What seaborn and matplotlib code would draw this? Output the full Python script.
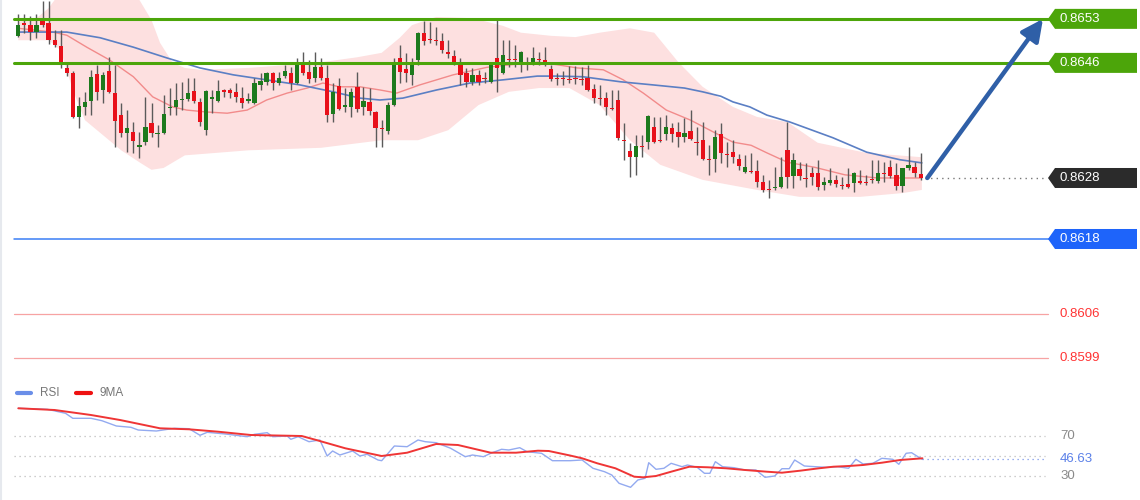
import matplotlib
matplotlib.use("Agg")
import matplotlib.pyplot as plt
import numpy as np
import seaborn as sns
from matplotlib.lines import Line2D
from matplotlib.patches import Polygon

sns.set_theme(style="white")
plt.rcParams["font.family"] = ["Liberation Sans", "DejaVu Sans"]

# ---- candles (price) ----
opens = [0.86503, 0.86523, 0.86520, 0.86509, 0.86527, 0.86523, 0.86496, 0.86487, 0.86452, 0.86444,
         0.86374, 0.86390, 0.86399, 0.86442, 0.86417, 0.86447, 0.86412, 0.86377, 0.86349, 0.86350,
         0.86326, 0.86334, 0.86364, 0.86347, 0.86349, 0.86388, 0.86390, 0.86401, 0.86403, 0.86415,
         0.86398, 0.86353, 0.86403, 0.86399, 0.86417, 0.86417, 0.86414, 0.86404, 0.86399, 0.86396,
         0.86425, 0.86430, 0.86444, 0.86428, 0.86439, 0.86444, 0.86428, 0.86457, 0.86446, 0.86436,
         0.86453, 0.86436, 0.86379, 0.86423, 0.86390, 0.86390, 0.86422, 0.86390, 0.86398, 0.86382,
         0.86356, 0.86352, 0.86393, 0.86468, 0.86450, 0.86441, 0.86465, 0.86508, 0.86498, 0.86496,
         0.86495, 0.86477, 0.86471, 0.86457, 0.86444, 0.86430, 0.86441, 0.86436, 0.86430, 0.86468,
         0.86444, 0.86466, 0.86466, 0.86457, 0.86457, 0.86461, 0.86466, 0.86465, 0.86450, 0.86436,
         0.86436, 0.86434, 0.86436, 0.86434, 0.86436, 0.86418, 0.86404, 0.86404, 0.86388, 0.86401,
         0.86337, 0.86320, 0.86310, 0.86328, 0.86334, 0.86358, 0.86337, 0.86347, 0.86356, 0.86350,
         0.86342, 0.86352, 0.86334, 0.86337, 0.86307, 0.86307, 0.86347, 0.86315, 0.86318, 0.86307,
         0.86287, 0.86288, 0.86288, 0.86271, 0.86260, 0.86261, 0.86263, 0.86321, 0.86280, 0.86291,
         0.86277, 0.86285, 0.86285, 0.86266, 0.86269, 0.86274, 0.86266, 0.86267, 0.86269, 0.86272,
         0.86271, 0.86275, 0.86272, 0.86285, 0.86294, 0.86282, 0.86264, 0.86293, 0.86294, 0.86283]
highs = [0.86538, 0.86538, 0.86535, 0.86538, 0.86558, 0.86558, 0.86512, 0.86512, 0.86460, 0.86447,
         0.86406, 0.86414, 0.86449, 0.86457, 0.86446, 0.86469, 0.86457, 0.86396, 0.86385, 0.86366,
         0.86350, 0.86406, 0.86396, 0.86361, 0.86409, 0.86420, 0.86428, 0.86430, 0.86436, 0.86436,
         0.86404, 0.86417, 0.86417, 0.86433, 0.86418, 0.86420, 0.86428, 0.86422, 0.86412, 0.86436,
         0.86444, 0.86446, 0.86446, 0.86446, 0.86457, 0.86453, 0.86468, 0.86477, 0.86465, 0.86477,
         0.86468, 0.86457, 0.86428, 0.86436, 0.86420, 0.86420, 0.86446, 0.86422, 0.86420, 0.86383,
         0.86369, 0.86398, 0.86468, 0.86488, 0.86476, 0.86468, 0.86509, 0.86527, 0.86525, 0.86517,
         0.86508, 0.86496, 0.86480, 0.86468, 0.86452, 0.86452, 0.86449, 0.86446, 0.86461, 0.86528,
         0.86496, 0.86496, 0.86488, 0.86479, 0.86469, 0.86485, 0.86477, 0.86485, 0.86457, 0.86444,
         0.86447, 0.86455, 0.86455, 0.86453, 0.86457, 0.86426, 0.86425, 0.86414, 0.86417, 0.86417,
         0.86364, 0.86333, 0.86345, 0.86345, 0.86377, 0.86374, 0.86374, 0.86377, 0.86364, 0.86366,
         0.86372, 0.86385, 0.86358, 0.86366, 0.86329, 0.86353, 0.86364, 0.86334, 0.86337, 0.86315,
         0.86314, 0.86317, 0.86306, 0.86282, 0.86274, 0.86294, 0.86310, 0.86366, 0.86317, 0.86302,
         0.86301, 0.86294, 0.86306, 0.86279, 0.86293, 0.86282, 0.86279, 0.86293, 0.86287, 0.86290,
         0.86282, 0.86306, 0.86306, 0.86302, 0.86306, 0.86301, 0.86293, 0.86326, 0.86302, 0.86317]
lows = [0.86501, 0.86508, 0.86496, 0.86500, 0.86517, 0.86490, 0.86485, 0.86452, 0.86439, 0.86372,
        0.86356, 0.86377, 0.86377, 0.86401, 0.86396, 0.86412, 0.86326, 0.86342, 0.86318, 0.86317,
        0.86309, 0.86329, 0.86342, 0.86326, 0.86347, 0.86377, 0.86377, 0.86385, 0.86399, 0.86396,
        0.86360, 0.86345, 0.86380, 0.86398, 0.86406, 0.86404, 0.86398, 0.86388, 0.86396, 0.86395,
        0.86417, 0.86425, 0.86417, 0.86425, 0.86436, 0.86417, 0.86426, 0.86441, 0.86428, 0.86430,
        0.86433, 0.86366, 0.86366, 0.86385, 0.86382, 0.86374, 0.86382, 0.86377, 0.86377, 0.86326,
        0.86326, 0.86347, 0.86391, 0.86428, 0.86430, 0.86425, 0.86457, 0.86488, 0.86492, 0.86488,
        0.86476, 0.86468, 0.86457, 0.86425, 0.86422, 0.86425, 0.86425, 0.86428, 0.86428, 0.86414,
        0.86442, 0.86453, 0.86453, 0.86446, 0.86449, 0.86457, 0.86457, 0.86455, 0.86431, 0.86425,
        0.86425, 0.86428, 0.86426, 0.86425, 0.86415, 0.86396, 0.86393, 0.86377, 0.86385, 0.86337,
        0.86306, 0.86279, 0.86282, 0.86310, 0.86323, 0.86333, 0.86334, 0.86337, 0.86334, 0.86326,
        0.86334, 0.86337, 0.86314, 0.86306, 0.86282, 0.86287, 0.86301, 0.86294, 0.86301, 0.86290,
        0.86285, 0.86285, 0.86263, 0.86255, 0.86245, 0.86258, 0.86261, 0.86261, 0.86261, 0.86274,
        0.86263, 0.86266, 0.86258, 0.86258, 0.86266, 0.86263, 0.86260, 0.86261, 0.86255, 0.86267,
        0.86266, 0.86269, 0.86269, 0.86271, 0.86277, 0.86258, 0.86255, 0.86290, 0.86279, 0.86274]
closes = [0.86520, 0.86520, 0.86509, 0.86520, 0.86520, 0.86496, 0.86488, 0.86460, 0.86444, 0.86374,
          0.86391, 0.86398, 0.86438, 0.86414, 0.86441, 0.86414, 0.86368, 0.86349, 0.86356, 0.86336,
          0.86329, 0.86358, 0.86349, 0.86349, 0.86379, 0.86390, 0.86401, 0.86403, 0.86412, 0.86399,
          0.86366, 0.86415, 0.86406, 0.86415, 0.86414, 0.86412, 0.86406, 0.86396, 0.86403, 0.86428,
          0.86431, 0.86444, 0.86428, 0.86436, 0.86447, 0.86428, 0.86457, 0.86444, 0.86434, 0.86453,
          0.86436, 0.86377, 0.86414, 0.86387, 0.86393, 0.86414, 0.86387, 0.86399, 0.86383, 0.86356,
          0.86355, 0.86393, 0.86458, 0.86446, 0.86444, 0.86460, 0.86508, 0.86495, 0.86496, 0.86495,
          0.86480, 0.86474, 0.86460, 0.86441, 0.86430, 0.86441, 0.86430, 0.86434, 0.86460, 0.86452,
          0.86473, 0.86465, 0.86465, 0.86477, 0.86461, 0.86468, 0.86465, 0.86457, 0.86434, 0.86434,
          0.86434, 0.86433, 0.86434, 0.86433, 0.86417, 0.86404, 0.86403, 0.86390, 0.86387, 0.86341,
          0.86336, 0.86310, 0.86328, 0.86326, 0.86376, 0.86334, 0.86336, 0.86358, 0.86347, 0.86342,
          0.86349, 0.86339, 0.86333, 0.86307, 0.86306, 0.86342, 0.86317, 0.86314, 0.86310, 0.86296,
          0.86294, 0.86287, 0.86271, 0.86258, 0.86258, 0.86263, 0.86279, 0.86279, 0.86306, 0.86280,
          0.86275, 0.86279, 0.86263, 0.86271, 0.86274, 0.86267, 0.86264, 0.86263, 0.86285, 0.86269,
          0.86269, 0.86274, 0.86285, 0.86283, 0.86280, 0.86264, 0.86293, 0.86298, 0.86285, 0.86277]

# ---- bollinger band edges and moving averages (bar index, price) ----
upper_x = [0, 3, 5, 6, 8, 13, 18, 20, 22, 23.4, 25.5, 27.5, 30, 38, 45, 50, 56, 60, 63, 65, 69, 75,
           80, 83, 88, 92, 96, 101, 105, 109, 113, 118, 122, 127, 132, 140, 149.2]
upper_px = [0.86525, 0.86531, 0.86547, 0.86560, 0.86584, 0.86608, 0.86592, 0.86560, 0.86528, 0.86492,
            0.86460, 0.86452, 0.86449, 0.86452, 0.86457, 0.86461, 0.86469, 0.86476, 0.86500, 0.86520,
            0.86533, 0.86531, 0.86519, 0.86508, 0.86503, 0.86501, 0.86508, 0.86515, 0.86508, 0.86461,
            0.86422, 0.86390, 0.86374, 0.86366, 0.86333, 0.86317, 0.86310]
lower_x = [0, 5, 7, 9, 11, 14, 17, 20, 22, 24, 27.5, 38, 50, 60, 66, 71, 76, 81, 86, 91, 96, 101,
           106, 113, 122, 129, 139, 146, 149.2]
lower_px = [0.86496, 0.86496, 0.86480, 0.86417, 0.86369, 0.86345, 0.86321, 0.86302, 0.86290, 0.86293,
            0.86313, 0.86321, 0.86325, 0.86337, 0.86337, 0.86353, 0.86393, 0.86414, 0.86420, 0.86420,
            0.86393, 0.86337, 0.86298, 0.86274, 0.86258, 0.86247, 0.86247, 0.86253, 0.86258]
ma_mid_x = [0, 5.7, 8, 11.3, 15, 19, 22.2, 25.5, 27.8, 31, 34.5, 37.8, 41, 44.4, 47.7, 50.3, 53, 56.4,
            59.7, 62.5, 66.3, 71.8, 77.4, 81.2, 85.7, 89, 92.3, 96.6, 99.9, 103.2, 107, 111, 114.2,
            118, 121, 123.6, 127, 131.5, 136.5, 142, 149.2]
ma_mid = [0.86515, 0.86509, 0.86504, 0.86485, 0.86465, 0.86438, 0.86406, 0.86390, 0.86385, 0.86382,
          0.86380, 0.86385, 0.86401, 0.86412, 0.86420, 0.86428, 0.86422, 0.86422, 0.86417, 0.86412,
          0.86425, 0.86441, 0.86453, 0.86457, 0.86461, 0.86457, 0.86452, 0.86449, 0.86433, 0.86412,
          0.86385, 0.86369, 0.86353, 0.86334, 0.86329, 0.86317, 0.86302, 0.86294, 0.86282, 0.86277,
          0.86277]
ma_slow_x = [0, 8, 13.5, 19, 24.5, 30, 35.5, 41, 46.5, 52, 56.4, 59.7, 63.5, 69.1, 74.6, 80, 85.7, 89,
             93.2, 99.4, 104.8, 110, 113, 116, 118, 120.8, 123.6, 127.4, 134.5, 140.1, 145.6, 149.2]
ma_slow = [0.86509, 0.86509, 0.86500, 0.86485, 0.86468, 0.86452, 0.86441, 0.86433, 0.86425, 0.86414,
           0.86404, 0.86401, 0.86404, 0.86417, 0.86428, 0.86433, 0.86439, 0.86439, 0.86438, 0.86430,
           0.86425, 0.86420, 0.86414, 0.86407, 0.86398, 0.86390, 0.86377, 0.86366, 0.86341, 0.86318,
           0.86306, 0.86301]

# ---- RSI panel ----
rsi_x = [0, 4.8, 7.8, 9, 12, 13.8, 16.2, 18.6, 19.8, 22.8, 25.8, 28.2, 30, 31.2, 34.2, 37.8, 39,
         41.1, 42, 44.4, 45, 46.2, 48, 49.8, 51, 51.9, 53.1, 55.2, 56.4, 57.6, 59.4, 60, 62.1, 64.2,
         66, 67.2, 69, 71.4, 73.8, 75, 76.8, 78, 79.8, 81, 82.8, 84, 86.4, 88.2, 91.1, 93.1, 94.9,
         96.8, 98, 99.2, 101.1, 102.3, 103.5, 104.1, 105.3, 106.6, 107.8, 109.6, 110.5, 112.1, 113.3,
         114.2, 115.1, 116.3, 118.2, 120, 121.8, 123.3, 124.9, 126.1, 127.3, 128.2, 129.8, 131.6,
         133.4, 135.3, 137.1, 138.3, 139.5, 141.1, 142.6, 144.4, 145.4, 146.6, 147.5, 148.7, 149.3]
rsi = [97.7, 96.7, 92.7, 87.7, 87.7, 85.3, 80, 78.7, 76, 75, 77.7, 77.3, 70.7, 73.7, 72, 69.3, 71.7,
       73.3, 69.3, 70, 66.7, 69.3, 64.3, 66, 50, 55, 51, 55, 50, 51.7, 46, 45.3, 60, 59.3, 66, 64.3,
       63.3, 57.7, 49.3, 51, 49.3, 52.7, 56.7, 56, 58.3, 54.3, 52.7, 45.3, 45.3, 46, 37.7, 34.3, 31,
       22.7, 18.7, 26, 27.7, 43.3, 36.7, 37.7, 42.7, 39.3, 41, 38.7, 32.7, 32.7, 44.3, 39.3, 38.3, 36,
       36, 28.7, 30, 37.3, 37.3, 46, 40, 39.3, 38.7, 39.3, 37.7, 46.7, 42, 42.7, 47.7, 46.7, 41.7,
       52.7, 53.3, 48.7, 46.63]
rsi_ma_x = [0, 6, 12, 16.8, 23.4, 28.2, 33, 38.4, 46.8, 49.2, 54, 60, 64.2, 69, 72.6, 78, 82.2, 85.8,
            87.6, 91.1, 93.1, 95.6, 98.6, 101.7, 103.2, 105.3, 107.8, 110.8, 113.9, 116.9, 120, 123.6,
            126.1, 129.1, 132.2, 134.6, 137.1, 139.5, 142.6, 145.6, 149.3]
rsi_ma = [97.7, 96, 91, 86, 77.7, 76.7, 74.3, 71, 70, 66, 57.7, 50, 53.3, 62, 61, 53.3, 53.3, 55.3, 55,
          50.5, 47.7, 42.7, 37.7, 29.3, 28.7, 30, 34.3, 39.3, 38.7, 37.7, 36, 34.3, 33.3, 35.3, 37.7,
          39.3, 40, 41, 43.3, 46, 47.7]
rsi_levels = [70, 50, 30]
rsi_labels = ["70", "30"]

resistances = [0.8653, 0.8646]
support_main = 0.8618
supports_minor = [0.8606, 0.8599]
target = 0.8653

GREEN = "#4ca50a"
BLUE_TAG = "#1e64fa"
W, H = 1140, 500

fig = plt.figure(figsize=(W / 100, H / 100), dpi=100)
ax = fig.add_axes([0, 1 - 380 / H, 1, 380 / H])
rax = fig.add_axes([0, 0, 1, 1 - 380 / H])

# bar i sits at pixel 18.3 + 6.056 * i
step = 6.056
xlim = (-18.3 / step, (W - 18.3) / step)
ax.set_xlim(*xlim)
rax.set_xlim(*xlim)
ax.set_ylim(0.86560 - 0.0000159 * 380, 0.86560)
rax.set_ylim(6, 126)
for a in (ax, rax):
    a.axis("off")

def fx(px):
    return px / W

# bollinger fill
band_x = list(upper_x) + list(lower_x[::-1])
band_y = list(upper_px) + list(lower_px[::-1])
ax.fill(band_x, band_y, color="#fde0e0", lw=0, zorder=1)

sns.lineplot(x=ma_mid_x, y=ma_mid, ax=ax, color="#f28b8b", lw=1.0, zorder=2)
sns.lineplot(x=ma_slow_x, y=ma_slow, ax=ax, color="#5b7fc4", lw=1.2, zorder=2)

# candles
idx = np.arange(len(opens))
o = np.array(opens)
c = np.array(closes)
up = c >= o
colors = np.where(up, "#1d7a1d", "#e8101a")
bottoms = np.minimum(o, c)
heights = np.maximum(np.abs(c - o), 0.000016)
ax.vlines(idx, lows, highs, color="#5a5a5a", lw=1, zorder=3)
ax.bar(idx, heights, bottom=bottoms, width=0.7, color=colors, lw=0, zorder=4)

# levels
for lvl in resistances:
    ax.axhline(lvl, xmin=fx(14), xmax=fx(1050), color=GREEN, lw=2.2, zorder=5)
ax.axhline(support_main, xmin=fx(14), xmax=fx(1050), color="#3b7ff5", lw=1.1, zorder=5)
for lvl in supports_minor:
    ax.axhline(lvl, xmin=fx(14), xmax=fx(1048), color="#f7a3a3", lw=0.9, zorder=5)
    ax.text(fx(1060), lvl, f"{lvl:.4f}", transform=ax.get_yaxis_transform(),
            color="#ff3434", fontsize=9.5, va="center", ha="left")

last = closes[-1]
ax.plot([idx[-1] + 0.8, (1046 - 18.3) / step], [last, last], color="#777777",
        lw=1, ls=(0, (1, 3)), zorder=5)

# tags
ymin, ymax = ax.get_ylim()
hh = 10 * (ymax - ymin) / 380

def tag(level, text, face):
    tr = ax.get_yaxis_transform()
    pts = [(fx(1048), level), (fx(1055), level + hh), (fx(1137), level + hh),
           (fx(1137), level - hh), (fx(1055), level - hh)]
    ax.add_patch(Polygon(pts, closed=True, transform=tr, fc=face, ec="none",
                         zorder=6, clip_on=False))
    ax.text(fx(1060), level, text, transform=tr, color="white", fontsize=9.5,
            va="center", ha="left", zorder=7)

for lvl in resistances:
    tag(lvl, f"{lvl:.4f}", GREEN)
tag(last, f"{last:.4f}", "#2b2b2b")
tag(support_main, f"{support_main:.4f}", BLUE_TAG)

# forecast arrow
ax.annotate("", xy=((1043 - 18.3) / step, target), xytext=(idx[-1] + 1.1, last),
            arrowprops=dict(arrowstyle="-|>,head_length=0.65,head_width=0.32",
                            mutation_scale=20, lw=3.2, color="#2f5fa7",
                            shrinkA=0, shrinkB=0), zorder=8)

# RSI panel
for lvl in rsi_levels:
    rax.axhline(lvl, xmin=fx(14), xmax=fx(1045), color="#bdbdbd", lw=0.9, ls=(0, (1, 3)))
sns.lineplot(x=rsi_x, y=rsi, ax=rax, color="#93aaf0", lw=1.0)
sns.lineplot(x=rsi_ma_x, y=rsi_ma, ax=rax, color="#ef3535", lw=1.4)
rax.plot([rsi_x[-1], (1045 - 18.3) / step], [rsi[-1], rsi[-1]], color="#7b97ea",
         lw=0.9, ls=(0, (1, 3)))
yt = rax.get_yaxis_transform()
rax.text(fx(1060), 70, rsi_labels[0], transform=yt, color="#8a8a8a", fontsize=9.5, va="center")
rax.text(fx(1060), 30, rsi_labels[1], transform=yt, color="#8a8a8a", fontsize=9.5, va="center")
rax.text(fx(1060), rsi[-1], f"{rsi[-1]:.2f}", transform=yt, color="#5b80e8",
         fontsize=9.5, va="center")

# legend
ly = 1 - 393 / H
fig.add_artist(Line2D([fx(17), fx(31)], [ly, ly], color="#6a8ee8", lw=3))
fig.text(fx(40), ly, "RSI", color="#777777", fontsize=8.5, va="center")
fig.add_artist(Line2D([fx(76), fx(91)], [ly, ly], color="#ee1111", lw=3))
fig.text(fx(100), ly, "9MA", color="#777777", fontsize=8.5, va="center")

# thin frame at the left edge
fig.add_artist(Line2D([0.0012, 0.0012], [0, 1], color="#e6e9ee", lw=1.5))

fig.savefig("out.png", dpi=100, facecolor="white")
